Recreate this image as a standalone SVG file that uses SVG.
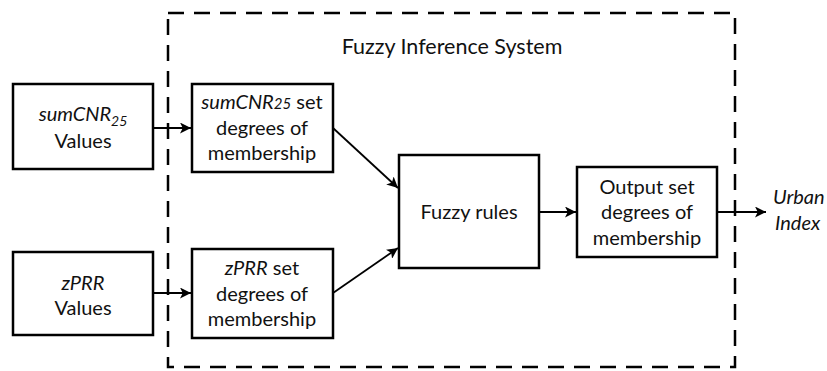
<svg xmlns="http://www.w3.org/2000/svg" width="827" height="371" viewBox="0 0 827 371">
<defs>
<marker id="ah" viewBox="0 0 10 10" refX="10" refY="5" markerWidth="11" markerHeight="11" markerUnits="userSpaceOnUse" orient="auto">
<path d="M0,0 L10,5 L0,10 L2.5,5 z" fill="#000"/>
</marker>
<style>
.box{fill:#fff;stroke:#000;stroke-width:2.5}
.t{font-family:Lato,"Open Sans",sans-serif;font-size:20px;fill:#111;text-anchor:middle}
.i{font-style:italic}
.c{stroke:#000;stroke-width:1.8;fill:none;marker-end:url(#ah)}
</style>
</defs>
<rect width="827" height="371" fill="#fff"/>
<g id="fis">
<rect x="168" y="13" width="567" height="354" fill="none" stroke="#000" stroke-width="2.5" stroke-dasharray="16,10"/>
<text class="t" x="452" y="54" style="font-size:21.5px">Fuzzy Inference System</text>
</g>
<g id="connectors">
<line class="c" x1="153" y1="128" x2="191" y2="128"/>
<line class="c" x1="153" y1="293" x2="191" y2="293"/>
<line class="c" x1="333" y1="128" x2="398" y2="188"/>
<line class="c" x1="333" y1="293" x2="398" y2="248"/>
<line class="c" x1="539" y1="212" x2="576" y2="212"/>
<line class="c" x1="717" y1="212" x2="766" y2="212"/>
</g>
<g id="sumcnr-values">
<rect class="box" x="13" y="84" width="140" height="85"/>
<text class="t" x="83" y="121"><tspan class="i">sumCNR</tspan><tspan class="i" style="font-size:14px" dy="5">25</tspan></text>
<text class="t" x="83" y="148">Values</text>
</g>
<g id="zprr-values">
<rect class="box" x="13" y="252" width="140" height="83"/>
<text class="t i" x="83" y="290">zPRR</text>
<text class="t" x="83" y="315">Values</text>
</g>
<g id="sumcnr-set">
<rect class="box" x="192" y="84" width="141" height="88"/>
<text class="t" x="262" y="109"><tspan class="i">sumCNR</tspan><tspan class="i" style="font-size:15px">25</tspan> set</text>
<text class="t" x="262" y="135">degrees of</text>
<text class="t" x="262" y="160">membership</text>
</g>
<g id="zprr-set">
<rect class="box" x="192" y="249" width="141" height="89"/>
<text class="t" x="262" y="275"><tspan class="i">zPRR</tspan> set</text>
<text class="t" x="262" y="301">degrees of</text>
<text class="t" x="262" y="326">membership</text>
</g>
<g id="fuzzy-rules">
<rect class="box" x="399" y="155" width="140" height="113"/>
<text class="t" x="469" y="219">Fuzzy rules</text>
</g>
<g id="output-set">
<rect class="box" x="577" y="167" width="140" height="90"/>
<text class="t" x="647" y="194">Output set</text>
<text class="t" x="647" y="219">degrees of</text>
<text class="t" x="647" y="245">membership</text>
</g>
<g id="urban-index">
<text class="t i" x="773" y="204" style="text-anchor:start">Urban</text>
<text class="t i" x="775" y="230" style="text-anchor:start">Index</text>
</g>
</svg>
